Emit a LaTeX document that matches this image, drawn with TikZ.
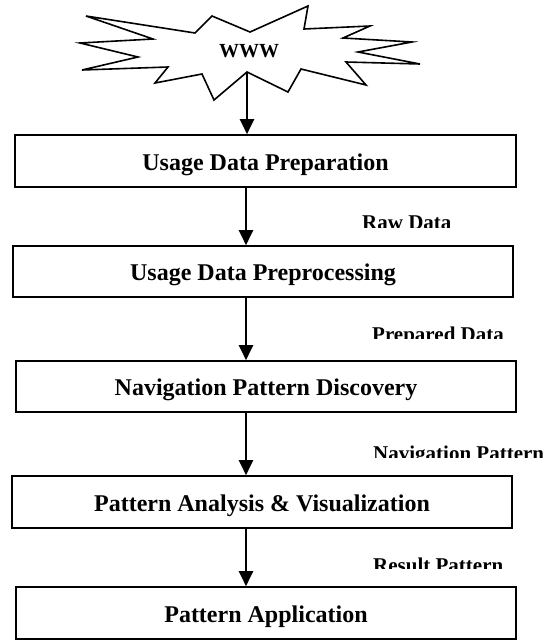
\documentclass[tikz,border=0pt]{standalone}
\usepackage{fontspec}
\setmainfont{Liberation Serif}
\usetikzlibrary{arrows.meta}

\tikzset{
  stage/.style={draw, line width=1.6pt, inner sep=0pt, minimum width=500pt,
    minimum height=51pt, text height=18pt, text depth=0pt,
    font=\fontsize{24}{28}\selectfont\bfseries},
  flow/.style={line width=2pt, -{Triangle[length=15pt,width=14pt]}},
  datalbl/.style={anchor=base west, inner sep=0pt, font=\fontsize{21}{24}\selectfont\bfseries},
  cloud/.style={draw, line width=1.6pt, line join=miter, fill=white},
}

\begin{document}
\begin{tikzpicture}[x=1pt,y=-1pt]
  \useasboundingbox (0,0) rectangle (555,640);

  % the web as a jagged burst
  \draw[cloud] (86,16) -- (195,33) -- (212,16) -- (250,32) -- (308,6) -- (304,29)
    -- (370,26) -- (343,38) -- (412,42) -- (358,52) -- (420,64) -- (346,62)
    -- (366,85) -- (301,69) -- (288,92) -- (247,72) -- (214,100) -- (202,74)
    -- (155,83) -- (168,67) -- (82,70) -- (138,57) -- (80,43) -- (153,39) -- cycle;
  \node[font=\fontsize{20}{24}\selectfont\bfseries] (www) at (249,51) {WWW};
  \coordinate (wtip) at (247,72);
  \coordinate (spine) at (246,0);

  % processing stages
  \node[stage, minimum width=501pt, minimum height=52pt] (b1) at (265.5,161) {Usage Data Preparation};
  \node[stage] (b2) at (263,271.5) {Usage Data Preprocessing};
  \node[stage] (b3) at (266,386.5) {Navigation Pattern Discovery};
  \node[stage, minimum height=52pt] (b4) at (262,502) {Pattern Analysis \& Visualization};
  \node[stage, minimum height=52pt] (b5) at (266,613) {Pattern Application};

  % flow between stages
  \draw[flow] (wtip) -- (b1.north -| wtip);
  \draw[flow] (b1.south -| spine) -- (b2.north -| spine);
  \draw[flow] (b2.south -| spine) -- (b3.north -| spine);
  \draw[flow] (b3.south -| spine) -- (b4.north -| spine);
  \draw[flow] (b4.south -| spine) -- (b5.north -| spine);

  % data labels, cut off along their lower edge
  \begin{scope}
    \clip (340,200) rectangle (555,227);
    \node[datalbl] (l1) at (362,229) {Raw Data};
  \end{scope}
  \begin{scope}
    \clip (340,310) rectangle (555,338);
    \node[datalbl] (l2) at (372,341) {Prepared Data};
  \end{scope}
  \begin{scope}
    \clip (340,430) rectangle (555,457);
    \node[datalbl] (l3) at (373,460) {Navigation Pattern};
  \end{scope}
  \begin{scope}
    \clip (340,540) rectangle (555,568);
    \node[datalbl] (l4) at (373,572) {Result Pattern};
  \end{scope}
\end{tikzpicture}
\end{document}
